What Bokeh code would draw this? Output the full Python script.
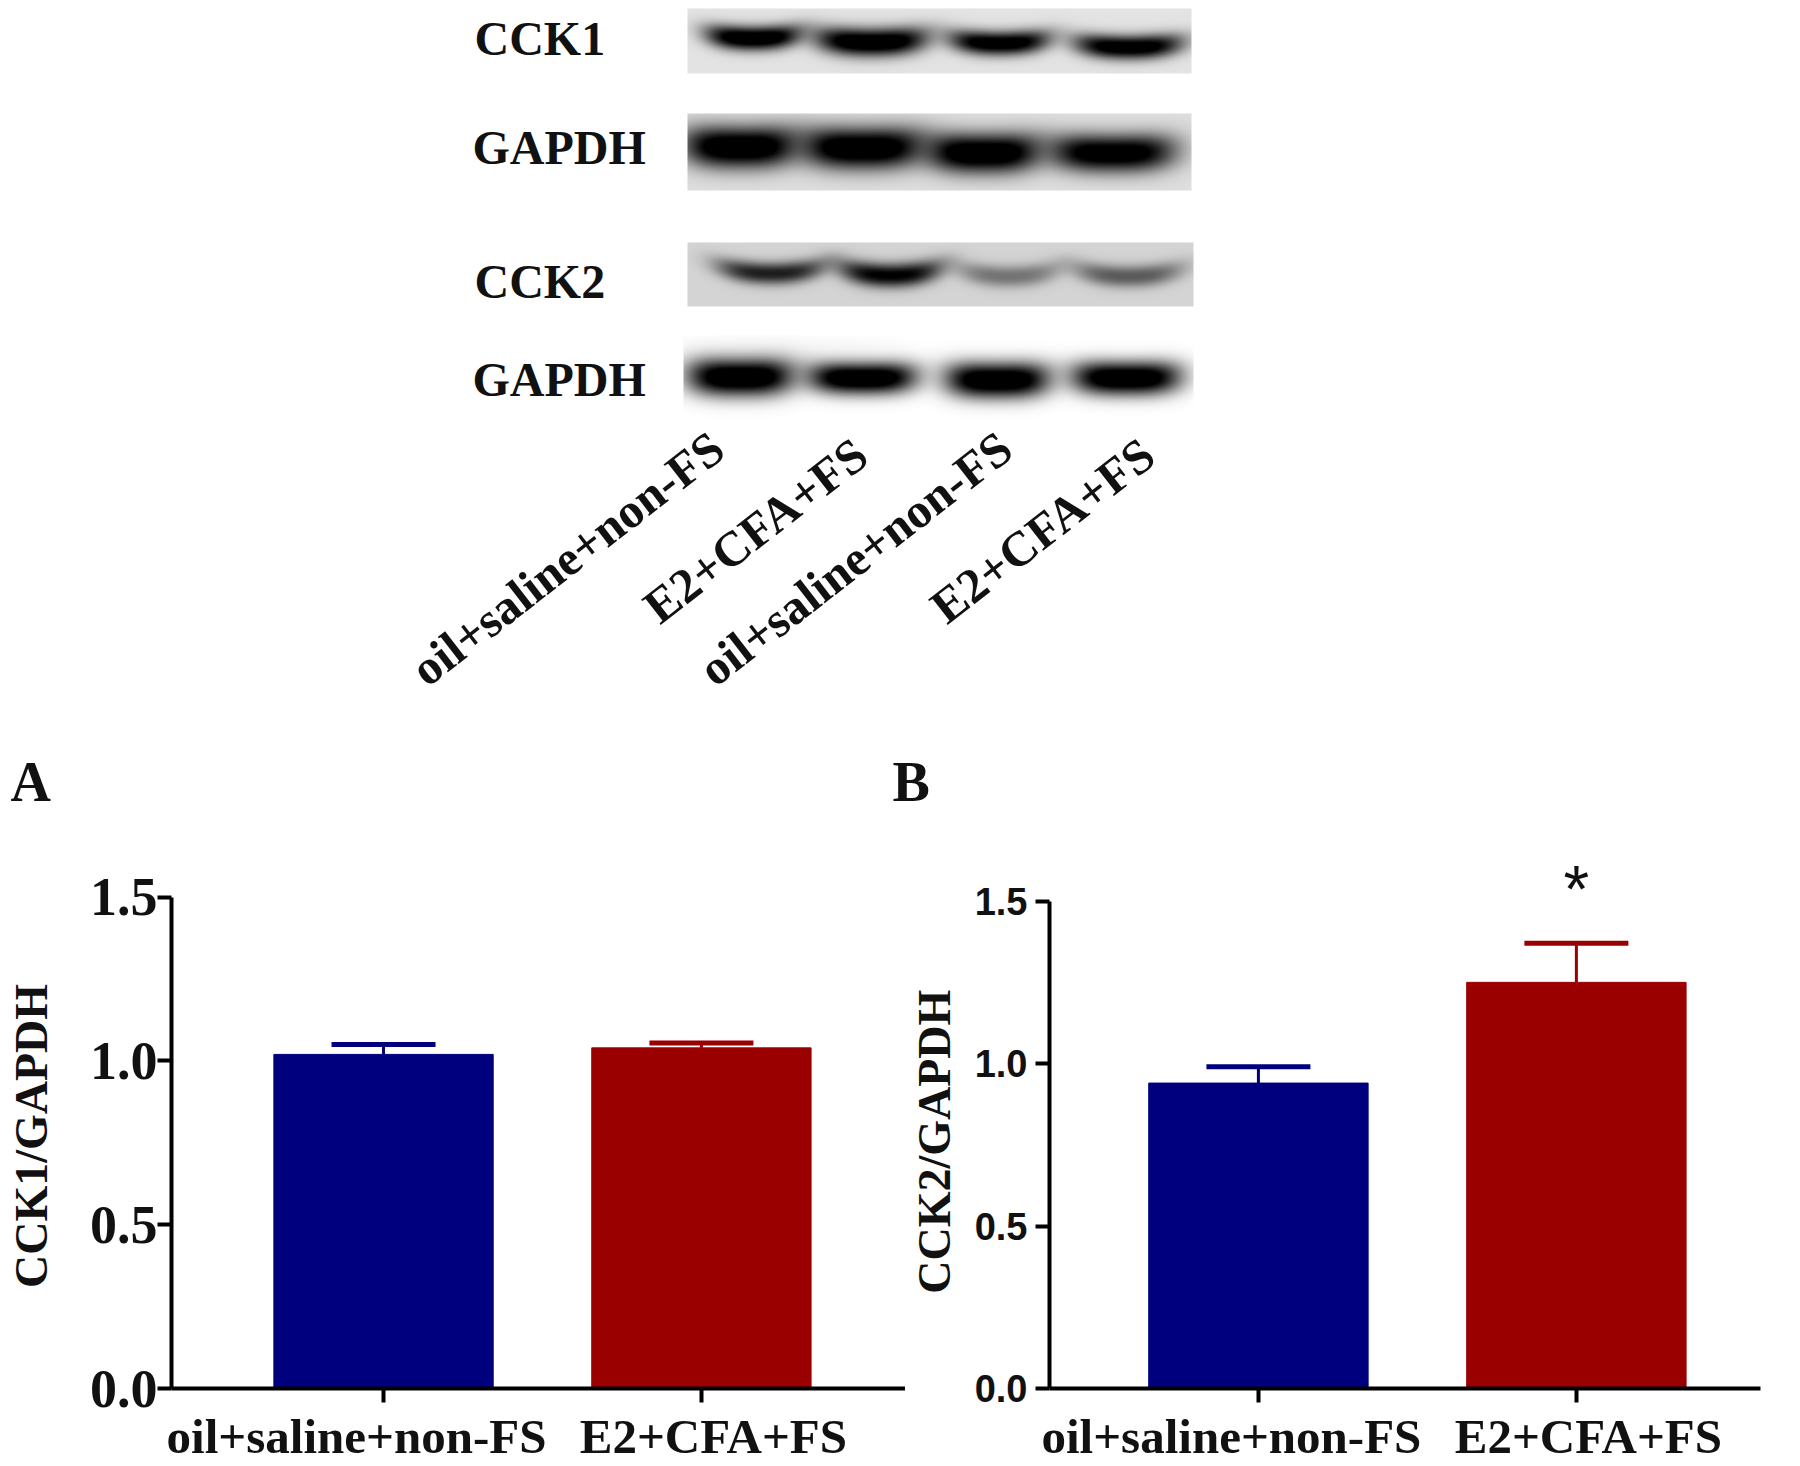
import numpy as np
from bokeh.plotting import figure
from bokeh.layouts import column, row
from bokeh.models import Range1d, ColumnDataSource, Whisker, TeeHead, FixedTicker, LinearColorMapper, LinearAxis
from bokeh.palettes import Greys256
from bokeh.core.properties import value
from bokeh.embed import file_html
from bokeh.resources import INLINE

# data
groups = ["oil+saline+non-FS", "E2+CFA+FS"]
cck1_mean = [1.02, 1.04]
cck1_upper = [1.05, 1.055]
cck2_mean = [0.94, 1.25]
cck2_upper = [0.99, 1.37]
bar_colors = ["#00007f", "#9b0000"]
y_ticks = [0.0, 0.5, 1.0, 1.5]
blot_names = ["CCK1", "GAPDH", "CCK2", "GAPDH"]
lane_labels = ["oil+saline+non-FS", "E2+CFA+FS", "oil+saline+non-FS", "E2+CFA+FS"]
band_density = [[1.0, 1.0, 0.95, 0.95], [1.0, 1.0, 1.0, 0.95], [0.72, 0.85, 0.38, 0.48], [1.0, 1.0, 1.0, 1.0]]

SERIF = "Liberation Serif"
SANS = "Liberation Sans"
TOP_BOTTOM = 815

# ---------- top part: blots and labels, in page pixels
top = figure(width=1800, height=TOP_BOTTOM, x_range=Range1d(0, 1800), y_range=Range1d(0, TOP_BOTTOM),
             output_backend="svg", toolbar_location=None, min_border=0, outline_line_color=None)
top.axis.visible = False
top.grid.visible = False

def Y(py):
    return TOP_BOTTOM - py

geom = [
    dict(box=(687, 8, 1191, 73), bg=0.89, cx=[753, 871, 999, 1128], hw=[48, 57, 51, 55], cy=[38, 42, 43, 47], hh=[12, 14, 12, 12], smile=5),
    dict(box=(687, 113, 1191, 190), bg=0.87, cx=[740, 862, 983, 1112], hw=[58, 62, 58, 64], cy=[147, 148, 153, 153], hh=[21, 21, 20, 19], smile=3),
    dict(box=(687, 242, 1193, 306), bg=0.83, cx=[771, 890, 1008, 1128], hw=[55, 52, 52, 55], cy=[273, 275, 276, 276], hh=[11, 12, 11, 11], smile=8),
    dict(box=(683, 335, 1193, 420), bg=1.0, cx=[740, 862, 997, 1126], hw=[54, 55, 53, 55], cy=[377, 378, 380, 378], hh=[19, 16, 18, 17], smile=2),
]
mapper = LinearColorMapper(palette=Greys256, low=0, high=1)
for k, (g, dens) in enumerate(zip(geom, band_density)):
    x0, y0, x1, y1 = g["box"]
    xs = np.arange(x0, x1) + 0.5
    ys = np.arange(y0, y1) + 0.5
    xx, yy = np.meshgrid(xs, ys)
    img = np.full(xx.shape, g["bg"], dtype=float)
    if k == 3:
        img -= 0.03 * np.exp(-((xx - 790) / 110) ** 4) * np.exp(-((yy - 350) / 16) ** 2)
    for cx, hw, cy, hh, d in zip(g["cx"], g["hw"], g["cy"], g["hh"], dens):
        u = (xx - cx) / hw
        v = (yy - cy + g["smile"] * u ** 2) / hh
        band = np.exp(-np.abs(u) ** 3.5) * np.exp(-np.abs(v) ** 2.2)
        img *= 1 - np.clip(band * d * 1.2, 0, 1)
    top.image(image=[img[::-1]], x=x0, y=Y(y1), dw=x1 - x0, dh=y1 - y0, color_mapper=mapper)

name_x = [474, 472, 474, 472]
name_y = [38, 147, 281, 379]
top.text(x=name_x, y=[Y(v) for v in name_y], text=blot_names, text_font=value(SERIF), text_font_style="bold",
         text_font_size="48px", text_baseline="middle", text_align="left", text_color="#111111")
lane_cx = [567, 755, 855, 1042]
lane_cy = [558, 530, 558, 530]
top.text(x=lane_cx, y=[Y(v) for v in lane_cy], text=lane_labels, angle=0.66, text_font=value(SERIF),
         text_font_style="bold", text_font_size="49px", text_baseline="middle", text_align="center", text_color="#111111")
top.text(x=[10, 892], y=[Y(781), Y(781)], text=["A", "B"], text_font=value(SERIF), text_font_style="bold",
         text_font_size="56px", text_baseline="middle", text_align="left", text_color="#111111")

# ---------- bar panels
def panel(width, left, right, xr, yend, means, uppers, ylabel, tick_font, tick_size, tick_standoff, standoff, label_dx):
    p = figure(width=width, height=1466 - TOP_BOTTOM, x_range=Range1d(*xr), y_range=Range1d(0, yend), output_backend="svg",
               toolbar_location=None, min_border_left=left, min_border_right=right, min_border_top=45,
               min_border_bottom=73, outline_line_color=None, background_fill_color=None, border_fill_color=None)
    p.grid.visible = False
    idx = list(range(len(groups)))
    src = ColumnDataSource(dict(x=idx, top=means, upper=uppers, color=bar_colors))
    p.vbar(x="x", top="top", bottom=0, width=0.69, color="color", source=src)
    for i in idx:
        s = ColumnDataSource(dict(x=[i], base=[means[i]], upper=[uppers[i]]))
        w = Whisker(source=s, base="x", lower="base", upper="upper", dimension="height",
                    line_color=bar_colors[i], line_width=3,
                    upper_head=TeeHead(size=104, line_color=bar_colors[i], line_width=5), lower_head=None)
        p.add_layout(w)
    p.yaxis.bounds = (0, 1.5)
    p.yaxis.ticker = FixedTicker(ticks=y_ticks)
    p.yaxis.major_label_overrides = {t: f"{t:.1f}" for t in y_ticks}
    p.xaxis.ticker = FixedTicker(ticks=idx)
    p.xaxis.major_label_overrides = {i: "" for i in idx}
    p.xaxis.major_label_standoff = 0
    p.xaxis.major_label_text_font_size = "0px"
    p.axis.axis_line_width = 4
    p.axis.axis_line_color = "#000000"
    p.axis.major_tick_line_width = 4
    p.axis.major_tick_line_color = "#000000"
    p.axis.major_tick_in = 0
    p.axis.major_tick_out = 14
    p.axis.minor_tick_line_color = None
    p.yaxis.major_label_text_font = tick_font
    p.yaxis.major_label_text_font_style = "bold"
    p.yaxis.major_label_text_font_size = tick_size
    p.yaxis.major_label_text_color = "#111111"
    p.yaxis.major_label_standoff = tick_standoff
    p.yaxis.axis_label = ylabel
    p.yaxis.axis_label_text_font = SERIF
    p.yaxis.axis_label_text_font_style = "bold"
    p.yaxis.axis_label_text_font_size = "46px"
    p.yaxis.axis_label_text_color = "#111111"
    p.yaxis.axis_label_standoff = standoff
    # group names sit a little off their ticks, so they have an axis of their own under the tick axis
    pos = [i + dx / 318 for i, dx in zip(idx, label_dx)]
    names = LinearAxis(ticker=FixedTicker(ticks=pos), major_label_overrides=dict(zip(pos, groups)),
                       axis_line_color=None, major_tick_line_color=None, minor_tick_line_color=None,
                       major_label_standoff=0, major_label_text_font=SERIF, major_label_text_font_style="bold",
                       major_label_text_font_size="49px", major_label_text_color="#111111")
    p.add_layout(names, "below")
    return p

# trailing no-break spaces centre the rotated titles on the 0-1.5 part of the axis, as in the reference
pa = panel(905, 171, 0, (-0.667, 1.642), 1.612, cck1_mean, cck1_upper, "CCK1/GAPDH\u00a0\u00a0", SERIF, "54px", 0, 30, (-27, 12))
pb = panel(895, 144, 40, (-0.657, 1.579), 1.625, cck2_mean, cck2_upper, "CCK2/GAPDH\u00a0\u00a0\u00a0", SANS, "38px", 8, 12, (-27, 12))
pb.text(x=[1], y=[1.537], text=["*"], text_font=value(SANS), text_font_style="normal", text_font_size="66px",
        text_align="center", text_baseline="middle", text_color="#111111")

layout = column(top, row(pa, pb, spacing=0), spacing=0)
open("out.html", "w").write(file_html(layout, INLINE))
